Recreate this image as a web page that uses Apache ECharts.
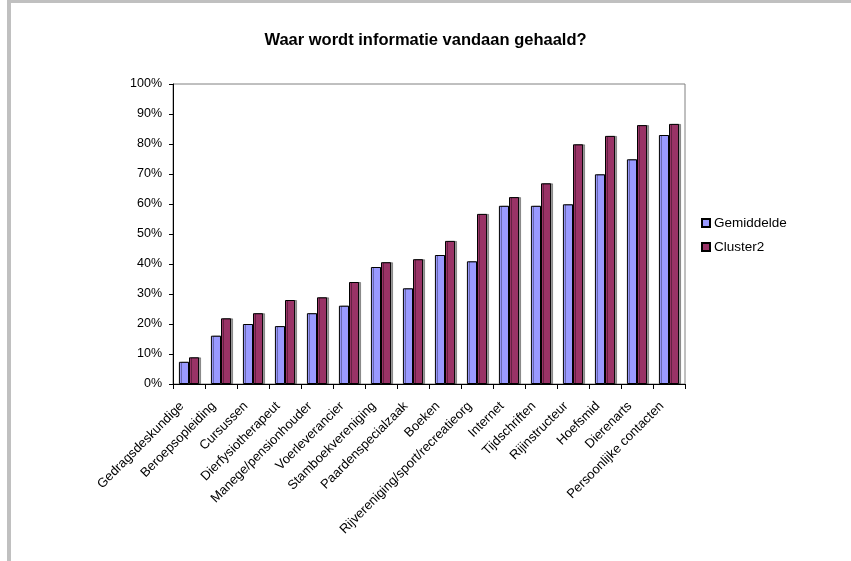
<!DOCTYPE html>
<html>
<head>
<meta charset="utf-8">
<script src="https://cdn.jsdelivr.net/npm/echarts@6/dist/echarts.min.js"></script>
<style>
html,body{margin:0;padding:0;background:#fff;}
#chart{width:851px;height:561px;}
</style>
</head>
<body>
<div id="chart"></div>
<script>
const categories = ["Gedragsdeskundige","Beroepsopleiding","Cursussen","Dierfysiotherapeut","Manege/pensionhouder","Voerleverancier","Stamboekvereniging","Paardenspecialzaak","Boeken","Rijvereniging/sport/recreatieorg","Internet","Tijdschriften","Rijinstructeur","Hoefsmid","Dierenarts","Persoonlijke contacten"];
const gemiddelde = [7.4,16.1,20.0,19.3,23.6,26.1,39.0,31.9,43.0,40.9,59.4,59.4,59.9,69.9,74.9,83.0];
const cluster2 = [8.9,21.9,23.6,28.0,28.9,34.0,40.6,41.6,47.7,56.7,62.3,66.9,79.9,82.7,86.3,86.7];
const seriesNames = ["Gemiddelde","Cluster2"];
const titleText = "Waar wordt informatie vandaan gehaald?";

const chart = echarts.init(document.getElementById('chart'), null, {renderer:'canvas'});
const font = 'Liberation Sans, Arial, sans-serif';
const barStyle = (color) => ({
  color: color,
  borderColor: '#000',
  borderWidth: 1,
  shadowColor: 'rgba(0,0,0,0.35)',
  shadowOffsetX: 2,
  shadowOffsetY: 0,
  shadowBlur: 0
});
chart.setOption({
  animation: false,
  backgroundColor: '#fff',
  textStyle: {fontFamily: font, color: '#000'},
  title: {
    text: titleText,
    left: 'center',
    top: 27,
    textStyle: {fontFamily: font, fontSize: 16.5, fontWeight: 'bold', color: '#000'}
  },
  graphic: [
    {type:'rect', shape:{x:7, y:0, width:844, height:3}, style:{fill:'#c0c0c0'}, silent:true},
    {type:'rect', shape:{x:7, y:0, width:4, height:561}, style:{fill:'#c0c0c0'}, silent:true}
  ],
  legend: {
    orient: 'vertical',
    left: 701,
    top: 216,
    itemWidth: 8,
    itemHeight: 8,
    itemGap: 10,
    icon: 'rect',
    padding: 0,
    textStyle: {fontFamily: font, fontSize: 13.5, color: '#000', padding: [0,0,0,-1]},
    data: seriesNames
  },
  grid: {
    left: 173, right: 166, top: 84, bottom: 177,
    show: true, borderColor: '#808080', borderWidth: 1, backgroundColor: 'transparent'
  },
  xAxis: {
    type: 'category',
    data: categories,
    axisLine: {lineStyle: {color: '#000', width: 1}},
    axisTick: {show: true, length: 5, inside: false, lineStyle: {color: '#000'}},
    axisLabel: {rotate: 45, interval: 0, margin: 13, padding: [0, 10, 0, 0], fontFamily: font, fontSize: 13, color: '#000'},
    splitLine: {show: false}
  },
  yAxis: {
    type: 'value',
    min: 0, max: 100, interval: 10,
    axisLine: {show: true, lineStyle: {color: '#000', width: 1}},
    axisTick: {show: true, length: 4, lineStyle: {color: '#000'}},
    axisLabel: {formatter: '{value}%', fontFamily: font, fontSize: 12.5, color: '#000', margin: 11},
    splitLine: {show: false}
  },
  series: [
    {name: seriesNames[0], type: 'bar', data: gemiddelde, barGap: '0%', barCategoryGap: '37%', itemStyle: barStyle('#9999ff')},
    {name: seriesNames[1], type: 'bar', data: cluster2, barGap: '0%', barCategoryGap: '37%', itemStyle: barStyle('#993366')}
  ]
});
</script>
</body>
</html>
